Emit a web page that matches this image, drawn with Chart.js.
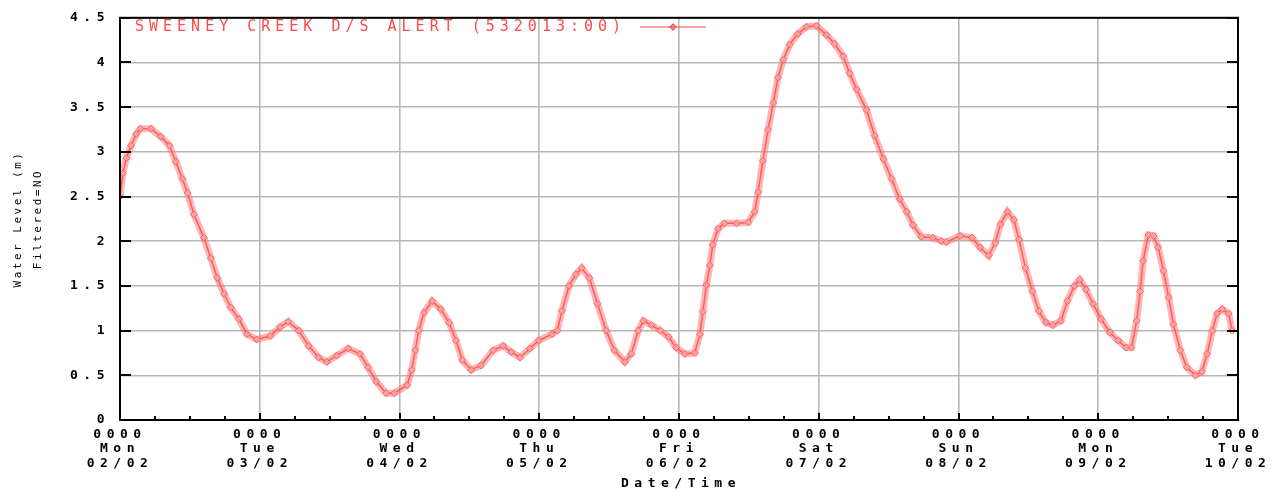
<!DOCTYPE html>
<html>
<head>
<meta charset="utf-8">
<title>Sweeney Creek D/S Alert - Water Level</title>
<script src="https://cdn.jsdelivr.net/npm/chart.js@4/dist/chart.umd.min.js"></script>
<style>
  html, body { margin: 0; padding: 0; background: #ffffff; }
  canvas { display: block; }
</style>
</head>
<body>
<canvas id="c" width="1280" height="492"></canvas>
<script>
// Hours since Mon 02/02 00:00
const hours = [
  0, 0.5, 1.1, 1.9, 2.8, 3.5, 5.3, 7.0, 8.5, 9.6, 10.7, 11.6, 12.7, 14.4, 15.6, 16.7, 17.9, 19.0, 20.4, 21.8,
  23.5, 25.8, 27.5, 28.9, 30.7, 32.4, 34.1, 35.5, 37.2, 39.2, 41.2, 42.6, 44.0, 45.7, 47.1,
  49.3, 50.1, 50.7, 51.3, 52.2, 53.6, 55.1, 56.5, 57.7, 58.8, 60.3, 62.0, 64.1, 65.8, 67.2, 68.7, 70.4, 71.9,
  74.2, 75.1, 75.9, 77.1, 78.3, 79.3, 80.6, 82.0, 83.5, 84.9, 86.7, 87.8, 89.0, 89.9, 91.3, 92.8, 94.2, 95.5,
  97.0, 98.7, 99.6, 100.1, 100.7, 101.3, 101.8, 102.7, 103.8, 105.9, 107.9, 109.0, 109.6, 110.4, 111.3, 112.2,
  113.0, 113.9, 115.0, 116.4, 117.9, 119.6, 121.3, 122.7, 124.2, 125.3, 126.5, 128.2, 129.6, 131.1, 132.5,
  133.9, 135.1, 136.2, 137.6, 139.6, 141.1, 141.9,
  144.3, 146.3, 147.7, 149.2, 150.3, 151.2, 152.4, 153.5, 154.4, 155.5, 156.7, 157.8, 159.0, 160.2, 161.6,
  162.7, 163.9, 164.8, 165.9, 167.1, 168.5, 170.0, 171.4, 172.8, 173.7, 174.6, 175.2, 175.7, 176.6, 177.5,
  178.3, 179.2, 180.1, 180.9, 182.1, 183.2, 184.7, 185.8, 186.7, 187.6, 188.4, 189.3, 190.4, 191.0
];
// Water level (m)
const levels = [
  2.50, 2.76, 2.93, 3.07, 3.20, 3.26, 3.26, 3.17, 3.07, 2.89, 2.70, 2.54, 2.30, 2.04, 1.81, 1.59, 1.41, 1.26, 1.13, 0.96,
  0.90, 0.94, 1.04, 1.10, 1.00, 0.83, 0.70, 0.65, 0.72, 0.80, 0.74, 0.59, 0.43, 0.30, 0.30,
  0.39, 0.56, 0.78, 1.00, 1.20, 1.33, 1.24, 1.09, 0.89, 0.67, 0.56, 0.61, 0.78, 0.83, 0.76, 0.70, 0.80, 0.89,
  0.96, 1.00, 1.22, 1.50, 1.63, 1.70, 1.59, 1.30, 1.00, 0.78, 0.65, 0.74, 1.00, 1.11, 1.06, 1.00, 0.93, 0.81,
  0.74, 0.75, 0.96, 1.21, 1.51, 1.73, 1.96, 2.14, 2.20, 2.20, 2.21, 2.33, 2.55, 2.90, 3.25, 3.55,
  3.83, 4.03, 4.20, 4.32, 4.40, 4.41, 4.31, 4.21, 4.07, 3.88, 3.70, 3.47, 3.18, 2.92, 2.70,
  2.47, 2.33, 2.18, 2.05, 2.04, 2.00, 1.99,
  2.06, 2.04, 1.93, 1.84, 1.98, 2.19, 2.33, 2.24, 2.02, 1.70, 1.44, 1.22, 1.09, 1.06, 1.11,
  1.33, 1.50, 1.57, 1.46, 1.30, 1.13, 0.98, 0.89, 0.81, 0.81, 1.11, 1.44, 1.78, 2.07, 2.06,
  1.93, 1.67, 1.37, 1.07, 0.78, 0.59, 0.50, 0.54, 0.74, 1.00, 1.19, 1.24, 1.19, 1.00
];

const xTickHours = [0, 24, 48, 72, 96, 120, 144, 168, 192];
const xTickTimes = ['0000', '0000', '0000', '0000', '0000', '0000', '0000', '0000', '0000'];
const xTickDays = ['Mon', 'Tue', 'Wed', 'Thu', 'Fri', 'Sat', 'Sun', 'Mon', 'Tue'];
const xTickDates = ['02/02', '03/02', '04/02', '05/02', '06/02', '07/02', '08/02', '09/02', '10/02'];
const yTickValues = [0, 0.5, 1, 1.5, 2, 2.5, 3, 3.5, 4, 4.5];
const yTickLabels = ['0', '0.5', '1', '1.5', '2', '2.5', '3', '3.5', '4', '4.5'];

const seriesName = 'SWEENEY CREEK D/S ALERT (532013:00)';
const yTitleLines = ['Water Level (m)', 'Filtered=NO'];
const xTitle = 'Date/Time';

const MONO = "'DejaVu Sans Mono', 'Liberation Mono', monospace";
const RED = '#ff4a4a';
const TICK_SPACING = '5.5px';

const points = hours.map((h, i) => ({ x: h, y: levels[i] }));

function setSpacing(chart) {
  chart.ctx.letterSpacing = TICK_SPACING;
}

// Frame, inward ticks, legend and axis titles
const framePlugin = {
  id: 'frame',
  beforeUpdate: setSpacing,
  beforeLayout: setSpacing,
  beforeDraw: setSpacing,
  afterDraw(chart) {
    const ctx = chart.ctx;
    const a = chart.chartArea;
    const xs = chart.scales.x, ys = chart.scales.y;
    ctx.save();
    // border
    ctx.strokeStyle = '#000';
    ctx.lineWidth = 2;
    ctx.strokeRect(a.left, a.top, a.right - a.left, a.bottom - a.top);
    // y ticks pointing inward, both sides
    ctx.beginPath();
    yTickValues.forEach(v => {
      const y = Math.round(ys.getPixelForValue(v));
      ctx.moveTo(a.left, y); ctx.lineTo(a.left + 11, y);
      ctx.moveTo(a.right, y); ctx.lineTo(a.right - 11, y);
    });
    ctx.stroke();
    // x ticks: days and 6-hourly
    ctx.beginPath();
    for (let h = 0; h <= 192; h += 6) {
      const x = Math.round(xs.getPixelForValue(h));
      const len = (h % 24 === 0) ? 7 : 4;
      ctx.moveTo(x, a.bottom); ctx.lineTo(x, a.bottom - len);
    }
    ctx.stroke();

    // legend entry inside the plot
    ctx.letterSpacing = '5px';
    ctx.font = '15px ' + MONO;
    ctx.fillStyle = RED;
    ctx.textAlign = 'left';
    ctx.textBaseline = 'middle';
    ctx.fillText(seriesName, 135, 27);
    ctx.strokeStyle = RED;
    ctx.lineWidth = 1.2;
    ctx.beginPath();
    ctx.moveTo(640, 27); ctx.lineTo(706, 27);
    ctx.stroke();
    ctx.beginPath();
    ctx.moveTo(673, 24); ctx.lineTo(676, 27); ctx.lineTo(673, 30); ctx.lineTo(670, 27); ctx.closePath();
    ctx.fillStyle = 'rgba(255,120,120,0.8)';
    ctx.fill();
    ctx.stroke();

    // x axis title
    ctx.fillStyle = '#000';
    ctx.font = 'bold 13px ' + MONO;
    ctx.letterSpacing = TICK_SPACING;
    ctx.textAlign = 'center';
    ctx.fillText(xTitle, 681, 484);

    // y axis titles
    ctx.font = '11px ' + MONO;
    ctx.letterSpacing = '2.5px';
    ctx.translate(18, 219);
    ctx.rotate(-Math.PI / 2);
    ctx.fillText(yTitleLines[0], 0, 0);
    ctx.fillText(yTitleLines[1], 0, 20);
    ctx.restore();
  }
};

new Chart(document.getElementById('c'), {
  type: 'line',
  data: {
    datasets: [
      {
        label: seriesName + ' band',
        data: points,
        borderColor: 'rgba(255,110,110,0.5)',
        borderWidth: 7,
        pointRadius: 0,
        tension: 0,
        fill: false
      },
      {
        label: seriesName,
        data: points,
        borderColor: RED,
        borderWidth: 1.5,
        pointStyle: 'rectRot',
        pointRadius: 3.4,
        pointBorderWidth: 1,
        pointBorderColor: '#ff4d4d',
        pointBackgroundColor: 'rgba(255,225,225,0.9)',
        tension: 0,
        fill: false
      }
    ]
  },
  options: {
    responsive: false,
    devicePixelRatio: 1,
    animation: false,
    layout: { padding: { top: 14, right: 42, left: 0, bottom: 0 } },
    plugins: {
      legend: { display: false },
      tooltip: { enabled: false }
    },
    scales: {
      x: {
        type: 'linear',
        min: 0,
        max: 192,
        afterBuildTicks(s) { s.ticks = xTickHours.map(v => ({ value: v })); },
        afterFit(s) { s.height = 72; },
        grid: { color: '#b8b8b8', lineWidth: 1.6, drawTicks: false },
        border: { display: false },
        ticks: {
          padding: 7,
          color: '#000',
          maxRotation: 0,
          autoSkip: false,
          font: { family: MONO, size: 13, weight: 'bold', lineHeight: 1.12 },
          callback(v, i) { return [xTickTimes[i], xTickDays[i], xTickDates[i]]; }
        }
      },
      y: {
        type: 'linear',
        min: 0,
        max: 4.5,
        afterBuildTicks(s) { s.ticks = yTickValues.map(v => ({ value: v })); },
        afterFit(s) { s.width = 120; },
        grid: { color: '#b8b8b8', lineWidth: 1.6, drawTicks: false },
        border: { display: false },
        ticks: {
          padding: 10,
          color: '#000',
          autoSkip: false,
          font: { family: MONO, size: 13, weight: 'bold' },
          callback(v, i) { return yTickLabels[i]; }
        }
      }
    }
  },
  plugins: [framePlugin]
});
</script>
</body>
</html>
